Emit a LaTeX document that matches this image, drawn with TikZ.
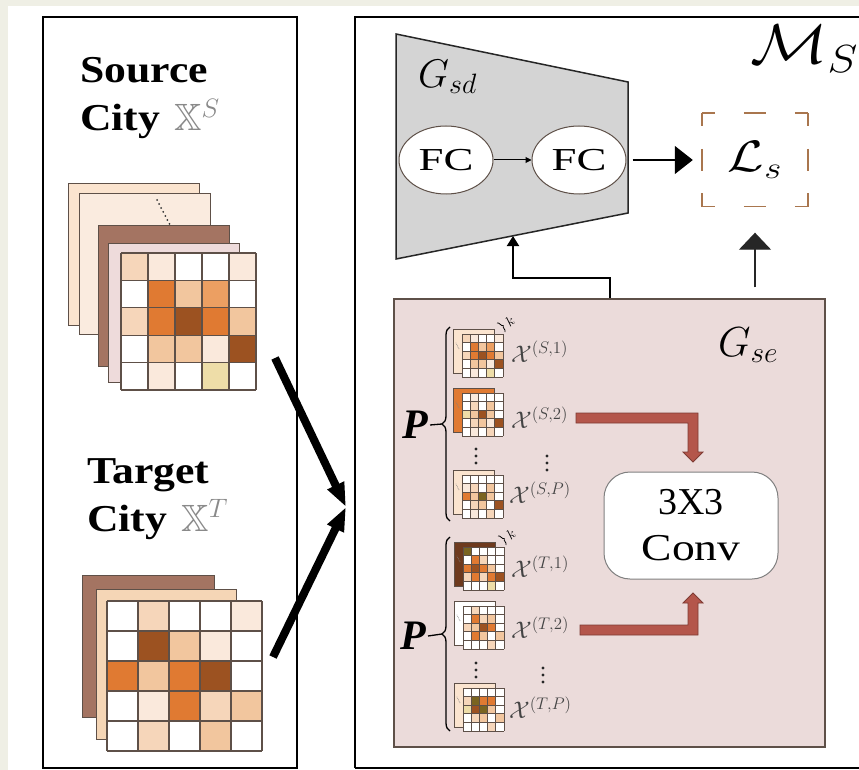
\RequirePackage{fix-cm}
\documentclass[tikz,border=0pt]{standalone}
\usepackage{fontspec}
\setmainfont{Liberation Serif}
% scalable blackboard-bold letters at every size
\DeclareFontFamily{U}{msb}{}
\DeclareFontShape{U}{msb}{m}{n}{<-> msbm10}{}
\usepackage{amssymb}
\usepackage{graphicx}
\usetikzlibrary{arrows.meta,decorations.pathreplacing,shapes.geometric,calc}

\definecolor{pagebg}{HTML}{EFEFE5}
\definecolor{gsdgray}{HTML}{D4D4D4}
\definecolor{gsepink}{HTML}{EBDBDA}
\definecolor{cellA}{HTML}{FAE9DC}
\definecolor{cellB}{HTML}{F6D6BA}
\definecolor{cellC}{HTML}{F2C69E}
\definecolor{cellD}{HTML}{EC9F62}
\definecolor{cellE}{HTML}{E07A32}
\definecolor{cellF}{HTML}{9C5221}
\definecolor{cellY}{HTML}{EEDDA8}
\definecolor{cellG}{HTML}{7A6420}
\definecolor{cellW}{HTML}{FFFFFF}
\definecolor{sheetPeach}{HTML}{FBE4CF}
\definecolor{sheetLight}{HTML}{FAEBDF}
\definecolor{sheetBrown}{HTML}{A47462}
\definecolor{sheetPink}{HTML}{EEDBDB}
\definecolor{sheetTan}{HTML}{F5D6B6}
\definecolor{sheetDark}{HTML}{6E3A1E}
\definecolor{sheetOrange}{HTML}{E07A32}
\definecolor{redarrow}{HTML}{B4564B}
\definecolor{redline}{HTML}{7E3B33}
\definecolor{lossbrown}{HTML}{A9764E}
\definecolor{gridline}{HTML}{5E5048}
\definecolor{labelgray}{HTML}{444444}
\definecolor{bbgray}{HTML}{8A8A8A}

% 5x5 coloured grid: x0 y0 x1 y1 {25 colours} line width
\newcommand{\cellgrid}[6]{%
  \pgfmathsetmacro\gxa{#1}\pgfmathsetmacro\gya{#2}%
  \pgfmathsetmacro\gdx{((#3)-(#1))/5}\pgfmathsetmacro\gdy{((#4)-(#2))/5}%
  \foreach \cellcol [count=\cidx from 0] in {#5} {%
    \pgfmathsetmacro\gcolidx{mod(\cidx,5)}%
    \pgfmathsetmacro\growidx{floor(\cidx/5)}%
    \fill[\cellcol] ({\gxa+\gcolidx*\gdx},{\gya+\growidx*\gdy}) rectangle ++(\gdx,\gdy);%
  }%
  \foreach \k in {0,...,5} {%
    \draw[gridline,line width=#6] ({\gxa+\k*\gdx},\gya) -- ++(0,{5*\gdy});%
    \draw[gridline,line width=#6] (\gxa,{\gya+\k*\gdy}) -- ++({5*\gdx},0);%
  }%
}

% small two-layer stack: x y sheetcolour {25 colours}
\newcommand{\minigroup}[4]{%
  \pgfmathsetmacro\mgx{#1}\pgfmathsetmacro\mgy{#2}%
  \filldraw[fill=#3, draw=gridline, line width=0.8pt] (\mgx,\mgy) rectangle ++(41,44);%
  \draw[gray, line width=0.9pt, line cap=round, dash pattern=on 0pt off 1.6pt] ({\mgx+3},{\mgy+14}) -- ({\mgx+6},{\mgy+20});%
  \cellgrid{\mgx+9}{\mgy+5}{\mgx+50}{\mgy+48}{#4}{0.8pt}%
}

% three stacked dots centred at x y
\newcommand{\vdotmarks}[2]{%
  \foreach \dy in {-7,0,7} {\fill[black!85] (#1,{#2+\dy}) circle[radius=1.7pt];}%
}

\begin{document}
\begin{tikzpicture}[x=1pt,y=-1pt,
  panel/.style={draw=black, line width=2.5pt},
  sheet/.style={draw=gridline, line width=1pt},
  bigarrow/.style={line width=8pt, -{Triangle[length=24pt,width=17pt]}},
  redbar/.style={fill=redarrow, draw=redline, line width=0.8pt},
  xlabel/.style={anchor=west, inner sep=0pt, text=labelgray, font=\fontsize{24}{26}\selectfont},
  titletext/.style={anchor=base west, inner sep=0pt, font=\fontsize{38}{44}\selectfont\bfseries},
  fcnode/.style={ellipse, draw=gridline, fill=white, line width=1pt, minimum width=94pt, minimum height=68pt, inner sep=0pt, font=\fontsize{32}{34}\selectfont},
  hdash/.style={lossbrown, line width=1.6pt, dash pattern=on 22pt off 29pt, dash phase=9pt},
  vdash/.style={lossbrown, line width=1.6pt, dash pattern=on 22pt off 22.5pt, dash phase=9pt},
  pbrace/.style={decorate, decoration={brace, amplitude=8pt}, line width=1.3pt},
  plabel/.style={inner sep=0pt, font=\fontsize{42}{44}\selectfont\bfseries\itshape},
  kbrace/.style={decorate, decoration={brace, amplitude=3pt}, line width=0.8pt},
  kmark/.style={rotate=40, inner sep=0pt, font=\fontsize{14}{15}\selectfont}
]
\clip (0,0) rectangle (859,770);
\fill[pagebg] (0,0) rectangle (859,770);
\fill[white] (8,6) rectangle (859,770);

% ---------- left panel: source and target cities ----------
\draw[panel] (43,17) rectangle (297,768);

\node[titletext] (srcword) at (80,83) {\scalebox{1.15}[1]{Source}};
\node[titletext] (srccity) at (80,131) {\scalebox{1.15}[1]{City}\hspace{14pt}\textcolor{bbgray}{\mdseries$\mathbb{X}^{S}$}};
\node[titletext] (tgtword) at (87,483) {\scalebox{1.15}[1]{Target}};
\node[titletext] (tgtcity) at (87,531) {\scalebox{1.15}[1]{City}\hspace{14pt}\textcolor{bbgray}{\mdseries$\mathbb{X}^{T}$}};

% source city stack
\filldraw[sheet, fill=sheetPeach] (68,184) rectangle (199,325);
\filldraw[sheet, fill=sheetLight] (79,194) rectangle (210,334);
\draw[black!80, line width=2pt, line cap=round, dash pattern=on 0pt off 4.5pt] (157,200) -- (170,225);
\filldraw[sheet, fill=sheetBrown] (98,225) rectangle (229,366);
\filldraw[sheet, fill=sheetPink] (108,243) rectangle (239,382);
\cellgrid{121}{253}{256}{390}{cellB,cellA,cellW,cellW,cellA, cellW,cellE,cellC,cellD,cellW, cellB,cellE,cellF,cellE,cellC, cellW,cellC,cellC,cellA,cellF, cellW,cellA,cellW,cellY,cellW}{1.2pt}

% target city stack
\filldraw[sheet, fill=sheetBrown] (82,575) rectangle (214,717);
\filldraw[sheet, fill=sheetTan] (96,589) rectangle (236,739);
\cellgrid{107}{601}{262}{751}{cellW,cellB,cellW,cellW,cellA, cellW,cellF,cellC,cellA,cellW, cellE,cellC,cellE,cellF,cellW, cellW,cellA,cellE,cellB,cellC, cellW,cellB,cellW,cellC,cellW}{1.2pt}

% ---------- right panel: model M_S ----------
\draw[panel] (355,768) -- (355,17) -- (880,17);
\draw[panel] (355,768) -- (880,768);

\node[anchor=base west, inner sep=0pt, font=\fontsize{56}{60}\selectfont] (mslabel) at (750,64) {\scalebox{1.15}[1]{$\mathcal{M}_S$}};

% decoder G_sd
\filldraw[fill=gsdgray, draw=black!85, line width=1.5pt] (396,34) -- (628,82) -- (628,213) -- (396,259) -- cycle;
\coordinate (gsdin) at (513,236);
\node[anchor=base west, inner sep=0pt, font=\fontsize{40}{44}\selectfont] (gsdlabel) at (418,88) {$G_{sd}$};
\node[fcnode] (fc1) at (446,160) {\scalebox{1.4}[1]{FC}};
\node[fcnode] (fc2) at (579,160) {\scalebox{1.4}[1]{FC}};
\draw[line width=1pt, -{Triangle[length=6pt,width=6pt]}] (fc1) -- (fc2);

% loss box
\node[minimum width=106pt, minimum height=93pt, inner sep=0pt, font=\fontsize{44}{48}\selectfont] (loss) at (755,160) {\scalebox{1.2}[1]{$\mathcal{L}_s$}};
\draw[hdash] (loss.north west) -- (loss.north east);
\draw[hdash] (loss.south west) -- (loss.south east);
\draw[vdash] (loss.north west) -- (loss.south west);
\draw[vdash] (loss.north east) -- (loss.south east);
\draw[line width=1.2pt, -{Triangle[length=18pt,width=28pt]}, shorten <=6pt, shorten >=9pt] (fc2.east) -- (loss.west);

% encoder G_se
\node[draw=gridline, fill=gsepink, line width=1.5pt, minimum width=431pt, minimum height=448pt, inner sep=0pt] (gse) at (609.5,523) {};
\node[anchor=base west, inner sep=0pt, font=\fontsize{42}{44}\selectfont] (gselabel) at (718,356) {$G_{se}$};

\draw[line width=2pt, -{Triangle[length=10pt,width=12pt]}] (gse.north) -- ++(0,-20) -| (gsdin);
\draw[line width=1.2pt, black!85, -{Triangle[length=17pt,width=32pt]}, shorten <=11pt, shorten >=26pt] (gse.north -| loss.south) -- (loss.south);

% source windows
\minigroup{453}{329}{sheetPeach}{cellB,cellA,cellW,cellW,cellA, cellW,cellE,cellC,cellD,cellW, cellB,cellE,cellF,cellE,cellC, cellW,cellC,cellC,cellA,cellF, cellW,cellA,cellW,cellY,cellW}
\minigroup{453}{388}{sheetOrange}{cellW,cellA,cellW,cellW,cellW, cellW,cellB,cellW,cellC,cellW, cellY,cellC,cellF,cellC,cellW, cellW,cellB,cellC,cellA,cellF, cellW,cellA,cellW,cellB,cellW}
\minigroup{453}{470}{sheetPeach}{cellW,cellW,cellW,cellW,cellW, cellA,cellB,cellW,cellC,cellW, cellE,cellC,cellG,cellC,cellW, cellW,cellB,cellC,cellW,cellF, cellW,cellA,cellW,cellB,cellW}
% target windows
\minigroup{454}{542}{sheetDark}{cellG,cellW,cellW,cellW,cellW, cellW,cellE,cellB,cellW,cellW, cellE,cellF,cellE,cellC,cellW, cellB,cellE,cellB,cellE,cellF, cellW,cellW,cellW,cellY,cellW}
\minigroup{454}{601}{white}{cellW,cellB,cellW,cellW,cellW, cellW,cellE,cellB,cellC,cellW, cellB,cellC,cellF,cellE,cellW, cellW,cellE,cellC,cellW,cellC, cellW,cellW,cellW,cellB,cellW}
\minigroup{454}{683}{sheetPeach}{cellW,cellW,cellW,cellW,cellW, cellB,cellG,cellE,cellE,cellW, cellY,cellF,cellG,cellC,cellW, cellW,cellB,cellC,cellW,cellC, cellW,cellW,cellW,cellB,cellW}

% stacking depth k
\draw[kbrace] (497,323) -- (505,332);
\node[kmark] (kmarks) at (510,321) {$k$};
\draw[kbrace] (498,536) -- (506,545);
\node[kmark] (kmarkt) at (511,534) {$k$};

% window labels
\node[xlabel] (xs1) at (511,352) {$\mathcal{X}^{(S,1)}$};
\node[xlabel] (xs2) at (511,418) {$\mathcal{X}^{(S,2)}$};
\node[xlabel] (xsp) at (509,493) {$\mathcal{X}^{(S,P)}$};
\node[xlabel] (xt1) at (511,567) {$\mathcal{X}^{(T,1)}$};
\node[xlabel] (xt2) at (511,628) {$\mathcal{X}^{(T,2)}$};
\node[xlabel] (xtp) at (509,708) {$\mathcal{X}^{(T,P)}$};

% vertical ellipses
\vdotmarks{476}{456}
\vdotmarks{547}{463}
\vdotmarks{476}{670}
\vdotmarks{543}{675}

% braces and P labels
\draw[pbrace] (450,521) -- (450,327);
\draw[pbrace] (450,731) -- (450,537);
\node[plabel] (ps) at (415,425) {P};
\node[plabel] (pt) at (413,636) {P};
\draw[line width=1.3pt] (ps.east) ++(2,0) -- (442,424);
\draw[line width=1.3pt] (pt.east) ++(2,0) -- (442,634);

% 3x3 convolution
\node[draw=gray, fill=white, line width=1pt, rounded corners=26pt, minimum width=174pt, minimum height=107pt, align=center, font=\fontsize{38}{46}\selectfont] (conv) at (691,525.5) {3X3\\\scalebox{1.2}[1]{Conv}};

% feeds into the convolution
\filldraw[redbar] (576,413) -- (698,413) -- (698,452) -- (703,452) -- (693,462) -- (683,452) -- (688,452) -- (688,423) -- (576,423) -- cycle;
\filldraw[redbar] (580,635) -- (580,625) -- (688,625) -- (688,603) -- (683,603) -- (693,593) -- (703,603) -- (698,603) -- (698,635) -- cycle;

% cities into the model
\coordinate (srcout) at (275,358);
\coordinate (tgtout) at (273,657);
\coordinate (merge) at (346,507);
\draw[bigarrow] (srcout) -- (merge);
\draw[bigarrow] (tgtout) -- (merge);
\end{tikzpicture}
\end{document}
